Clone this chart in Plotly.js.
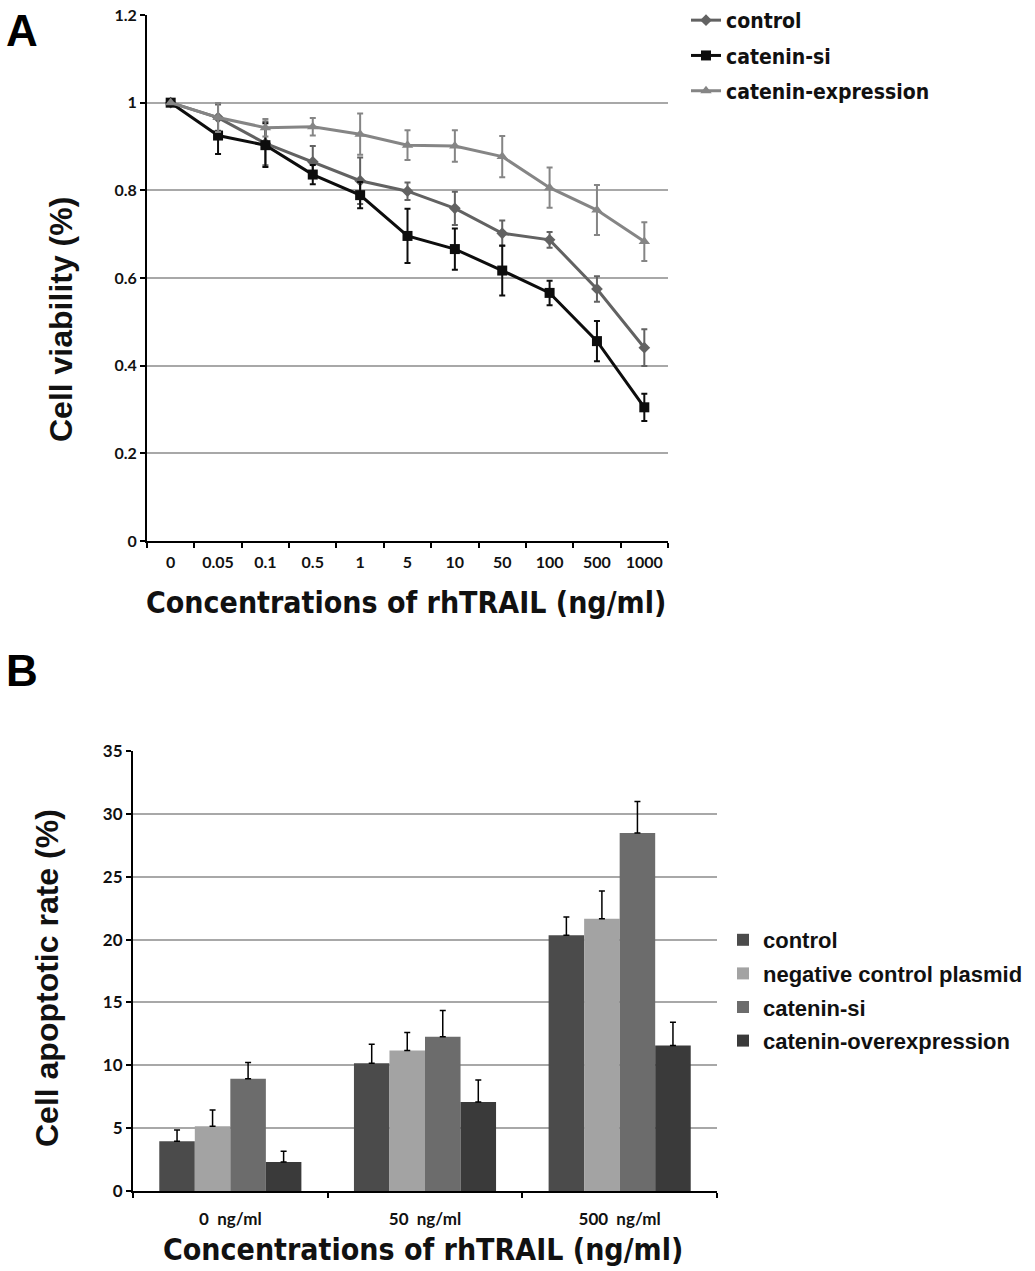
<!DOCTYPE html>
<html>
<head>
<meta charset="utf-8">
<script src="https://cdn.plot.ly/plotly-3.0.1.min.js"></script>
<style>
  html, body { margin: 0; padding: 0; background: #fff; }
  #chart { width: 1035px; height: 1271px; }
</style>
</head>
<body>
<div id="chart"></div>
<script>
// ── Panel A: cell viability vs rhTRAIL concentration ─────────────────────────
const concLabels = ['0', '0.05', '0.1', '0.5', '1', '5', '10', '50', '100', '500', '1000'];

const controlViab  = [1.0, 0.966, 0.907, 0.865, 0.822, 0.798, 0.759, 0.702, 0.687, 0.575, 0.441];
const controlErr   = [0.0, 0.030, 0.050, 0.036, 0.053, 0.020, 0.038, 0.029, 0.018, 0.029, 0.042];
const siViab       = [1.0, 0.925, 0.903, 0.836, 0.789, 0.696, 0.666, 0.617, 0.566, 0.456, 0.305];
const siErr        = [0.0, 0.042, 0.050, 0.022, 0.030, 0.062, 0.047, 0.057, 0.028, 0.046, 0.031];
const exprViab     = [1.0, 0.966, 0.943, 0.945, 0.928, 0.903, 0.901, 0.877, 0.806, 0.755, 0.683];
const exprErr      = [0.0, 0.033, 0.020, 0.020, 0.047, 0.034, 0.036, 0.047, 0.046, 0.057, 0.044];

// ── Panel B: apoptotic rate per group ────────────────────────────────────────
const doseLabels   = ['0  ng/ml', '50  ng/ml', '500  ng/ml'];
const barControl   = [3.96, 10.17, 20.34];
const barControlE  = [0.90, 1.50, 1.45];
const barNeg       = [5.15, 11.17, 21.66];
const barNegE      = [1.30, 1.43, 2.20];
const barSi        = [8.93, 12.26, 28.48];
const barSiE       = [1.30, 2.10, 2.50];
const barOver      = [2.30, 7.08, 11.57];
const barOverE     = [0.87, 1.74, 1.85];

const W = 1035, H = 1271;
const px = v => v / W;            // left-to-right pixel → paper x
const py = v => 1 - v / H;        // top-to-bottom pixel → paper y

const NARROW = 'DejaVu Sans Condensed, Liberation Sans Narrow, sans-serif';
const ARIAL  = 'Liberation Sans, Arial, sans-serif';
const CALIB  = 'Lato, Open Sans, sans-serif';

function lineTrace(name, y, err, color, symbol, size) {
  return {
    x: concLabels, y: y, name: name,
    type: 'scatter', mode: 'lines+markers',
    xaxis: 'x', yaxis: 'y', legend: 'legend', legendgroup: name,
    line: { color: color, width: 3 },
    marker: { symbol: symbol, size: size, color: color },
    error_y: { type: 'data', array: err, visible: true, color: color, thickness: 2, width: 3 },
    hoverinfo: 'none',
  };
}

function barTrace(name, y, err, color) {
  return {
    x: doseLabels, y: y, name: name,
    type: 'bar', xaxis: 'x2', yaxis: 'y2', legend: 'legend2', legendgroup: 'b-' + name,
    marker: { color: color, line: { width: 0 } },
    error_y: {
      type: 'data', array: err, arrayminus: y.map(() => 0), symmetric: false,
      visible: true, color: '#000', thickness: 1.5, width: 3,
    },
    hoverinfo: 'none',
  };
}

const traces = [
  lineTrace('control', controlViab, controlErr, '#626262', 'diamond', 9),
  lineTrace('catenin-si', siViab, siErr, '#0d0d0d', 'square', 10),
  lineTrace('catenin-expression', exprViab, exprErr, '#858585', 'triangle-up', 10),
  barTrace('control', barControl, barControlE, '#4b4b4b'),
  barTrace('negative control plasmid', barNeg, barNegE, '#a3a3a3'),
  barTrace('catenin-si', barSi, barSiE, '#6c6c6c'),
  barTrace('catenin-overexpression', barOver, barOverE, '#3a3a3a'),
];

const axisCommon = {
  showline: true, linecolor: '#000', linewidth: 2,
  ticks: 'outside', tickcolor: '#000', ticklen: 5, tickwidth: 2,
  zeroline: false, fixedrange: true,
};

const tick16 = { family: CALIB, size: 16, color: '#111', weight: 'bold' };
const tick17 = { family: CALIB, size: 17, color: '#111', weight: 'bold' };
const xTitleFont = { family: NARROW, size: 30, color: '#111', weight: 'bold' };
const yTitleFont = { family: ARIAL, size: 32, color: '#111', weight: 'bold' };

function label(text, x, y, font, angle) {
  return { text: text, x: px(x), y: py(y), xref: 'paper', yref: 'paper',
           xanchor: 'center', yanchor: 'middle', showarrow: false,
           textangle: angle || 0, font: font };
}

const layout = {
  width: W, height: H,
  margin: { t: 0, r: 0, b: 0, l: 0, pad: 0 },
  paper_bgcolor: '#fff', plot_bgcolor: '#fff',
  showlegend: true,
  barmode: 'group', bargap: 0.27, bargroupgap: 0,
  xaxis: Object.assign({}, axisCommon, {
    domain: [px(147), px(668)], anchor: 'y',
    type: 'category', tickson: 'boundaries', showgrid: false,
    range: [-0.5, 10.5], ticklabelstandoff: 6, tickfont: tick16,
  }),
  yaxis: Object.assign({}, axisCommon, {
    domain: [py(541), py(15)], anchor: 'x',
    range: [0, 1.2], dtick: 0.2, tickformat: '.1~f',
    showgrid: true, gridcolor: '#a8a8a8', gridwidth: 2, tickfont: tick16,
  }),
  xaxis2: Object.assign({}, axisCommon, {
    domain: [px(133), px(717)], anchor: 'y2',
    type: 'category', tickson: 'boundaries', showgrid: false,
    ticklabelstandoff: 12, tickfont: tick17,
  }),
  yaxis2: Object.assign({}, axisCommon, {
    domain: [py(1191), py(751)], anchor: 'x2',
    range: [0, 35], dtick: 5,
    showgrid: true, gridcolor: '#a8a8a8', gridwidth: 2, tickfont: tick17,
  }),
  legend: {
    x: px(686), y: 1, xanchor: 'left', yanchor: 'top',
    bgcolor: 'rgba(0,0,0,0)', itemwidth: 30, tracegroupgap: 5,
    font: { family: NARROW, size: 21, color: '#111', weight: 'bold' },
  },
  legend2: {
    x: px(723), y: py(919), xanchor: 'left', yanchor: 'top',
    bgcolor: 'rgba(0,0,0,0)', itemwidth: 30, tracegroupgap: 2,
    font: { family: ARIAL, size: 22, color: '#111', weight: 'bold' },
  },
  annotations: [
    { text: 'A', x: px(4), y: py(4), xref: 'paper', yref: 'paper', xanchor: 'left', yanchor: 'top',
      showarrow: false, font: { family: ARIAL, size: 44, color: '#000', weight: 'bold' } },
    { text: 'B', x: px(4), y: py(644), xref: 'paper', yref: 'paper', xanchor: 'left', yanchor: 'top',
      showarrow: false, font: { family: ARIAL, size: 44, color: '#000', weight: 'bold' } },
    label('Cell viability (%)', 61, 320, yTitleFont, -90),
    label('Concentrations of rhTRAIL (ng/ml)', 406, 602, xTitleFont),
    label('Cell apoptotic rate (%)', 47, 978, yTitleFont, -90),
    label('Concentrations of rhTRAIL (ng/ml)', 423, 1249, xTitleFont),
  ],
};

Plotly.newPlot('chart', traces, layout, { displayModeBar: false, staticPlot: true });
</script>
</body>
</html>
